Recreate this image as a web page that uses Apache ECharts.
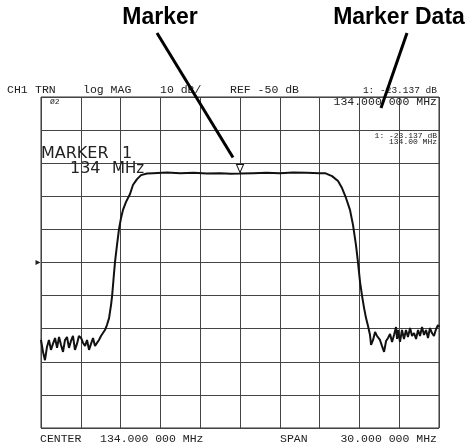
<!DOCTYPE html>
<html><head><meta charset="utf-8">
<script src="https://cdn.jsdelivr.net/npm/echarts@6/dist/echarts.min.js"></script>
<style>html,body{margin:0;padding:0;background:#fff}#c{width:471px;height:447px}</style>
</head><body><div id="c"></div>
<script>
// Frequency (MHz) and level (dB)
const freqMHz = [119.0,119.15,119.30,119.45,119.60,119.75,119.90,120.06,120.21,120.36,120.51,120.66,120.81,120.96,121.11,121.26,121.41,121.56,121.71,121.86,122.02,122.17,122.32,122.47,122.62,122.77,122.92,123.07,123.22,123.37,123.52,123.67,123.82,123.97,124.13,124.28,124.36,124.43,124.50,124.58,124.73,124.88,125.03,125.18,125.41,125.71,125.93,126.24,126.54,126.99,127.44,128.5,129.5,130.5,131.5,132.5,133.3,134.0,135.0,136.0,137.0,138.0,139.0,140.0,140.41,140.94,141.39,141.69,141.99,142.29,142.52,142.74,142.89,143.05,143.20,143.35,143.50,143.65,143.80,143.88,144.03,144.18,144.33,144.55,144.70,144.86,145.01,145.16,145.31,145.46,145.61,145.76,145.84,145.91,146.06,146.21,146.36,146.51,146.66,146.82,146.97,147.12,147.27,147.42,147.57,147.72,147.87,148.02,148.17,148.32,148.47,148.62,148.78,148.93,149.0];
const levelDB = [-73.4,-77.0,-79.5,-75.5,-73.4,-76.4,-74.6,-72.8,-75.8,-72.5,-74.9,-77.0,-73.4,-72.5,-75.8,-73.7,-72.2,-76.4,-74.6,-72.2,-72.8,-74.3,-75.2,-73.4,-76.4,-74.6,-72.8,-75.2,-74.6,-73.4,-72.2,-71.6,-70.4,-68.9,-66.8,-62.8,-60.1,-56.8,-53.4,-49.8,-44.7,-39.9,-36.6,-34.1,-31.7,-29.3,-26.6,-24.8,-23.6,-23.1,-23.0,-22.8,-23.0,-22.9,-23.1,-23.0,-23.2,-23.137,-23.0,-22.9,-23.0,-22.8,-22.9,-23.0,-23.0,-23.9,-25.4,-27.5,-30.5,-34.1,-38.7,-44.7,-49.8,-55.9,-60.1,-63.7,-66.8,-69.2,-71.9,-74.9,-73.4,-71.0,-72.2,-73.4,-75.2,-77.0,-73.7,-72.8,-71.6,-74.0,-71.9,-69.5,-73.1,-70.4,-74.0,-70.4,-73.1,-70.4,-72.5,-69.8,-72.2,-71.3,-73.1,-70.4,-72.2,-69.5,-71.9,-70.4,-72.8,-69.8,-71.3,-72.2,-70.1,-68.9,-69.5];
const xTicks = [119,122,125,128,131,134,137,140,143,146,149];
const yTicks = [0,-10,-20,-30,-40,-50,-60,-70,-80,-90,-100];
const markerPoint = [134.0, -23.137];
const refLevel = -50;

const mono = '"Liberation Mono", "DejaVu Sans Mono", monospace';
const chart = echarts.init(document.getElementById('c'));
function txt(x, y, s, opt) {
  opt = opt || {};
  return {type:'text', x:x, y:y, style:{text:s, fill:opt.fill||'#222', font:(opt.weight||'normal')+' '+(opt.size||11.5)+'px '+(opt.family||mono), textAlign:opt.align||'left', textVerticalAlign:'middle'}};
}
chart.setOption({
  animation:false,
  grid:{left:41, top:97, width:398, height:331, show:true, borderColor:'#333', borderWidth:1},
  xAxis:{type:'value', min:xTicks[0], max:xTicks[xTicks.length-1], interval:3,
    axisLine:{show:false}, axisTick:{show:false}, axisLabel:{show:false},
    splitLine:{show:true, lineStyle:{color:'#444', width:1}}},
  yAxis:{type:'value', min:yTicks[yTicks.length-1], max:yTicks[0], interval:10,
    axisLine:{show:false}, axisTick:{show:false}, axisLabel:{show:false},
    splitLine:{show:true, lineStyle:{color:'#444', width:1}}},
  series:[{
    type:'line', data:freqMHz.map((f,i)=>[f, levelDB[i]]), symbol:'none',
    lineStyle:{color:'#111', width:2}, z:5,
    markPoint:{silent:true, animation:false, data:[
      {coord:markerPoint, symbol:'triangle', symbolRotate:180, symbolSize:[7,8], symbolOffset:[0,-5],
        itemStyle:{color:'#fff', borderColor:'#111', borderWidth:1}, label:{show:false}},
      {coord:[xTicks[0], refLevel], symbol:'triangle', symbolRotate:-90, symbolSize:[5,5], symbolOffset:[-3,0],
        itemStyle:{color:'#222'}, label:{show:false}}
    ]}
  }]
});
const mp = chart.convertToPixel({gridIndex:0}, markerPoint);
chart.setOption({graphic:[
  txt(160, 18, 'Marker', {family:'"Liberation Sans", Arial, sans-serif', size:23, weight:'bold', align:'center', fill:'#000'}),
  txt(399, 18, 'Marker Data', {family:'"Liberation Sans", Arial, sans-serif', size:23, weight:'bold', align:'center', fill:'#000'}),
  {type:'line', shape:{x1:157, y1:33, x2:mp[0]-7, y2:mp[1]-16}, style:{stroke:'#000', lineWidth:3}, z:10},
  {type:'line', shape:{x1:407, y1:33, x2:381, y2:108}, style:{stroke:'#000', lineWidth:3}, z:10},
  txt(7, 90, 'CH1'), txt(35, 90, 'TRN'), txt(83, 90, 'log MAG'), txt(160, 90, '10 dB/'), txt(230, 90, 'REF -50 dB'),
  txt(437, 90, '1: -23.137 dB', {align:'right', size:9.5}),
  txt(437, 102, '134.000 000 MHz', {align:'right'}),
  txt(50, 102, 'Ø2', {size:8}),
  txt(437, 136, '1: -23.137 dB', {align:'right', size:8}),
  txt(437, 142, '134.00 MHz', {align:'right', size:8}),
  txt(41, 154, 'MARKER', {family:'"DejaVu Sans", sans-serif', size:16}),
  txt(122, 154, '1', {family:'"DejaVu Sans", sans-serif', size:16}),
  txt(70, 169, '134', {family:'"DejaVu Sans", sans-serif', size:16}),
  txt(112, 169, 'MHz', {family:'"DejaVu Sans", sans-serif', size:15}),
  txt(40, 439, 'CENTER'), txt(100, 439, '134.000 000 MHz'),
  txt(280, 439, 'SPAN'), txt(437, 439, '30.000 000 MHz', {align:'right'})
]});
</script></body></html>
